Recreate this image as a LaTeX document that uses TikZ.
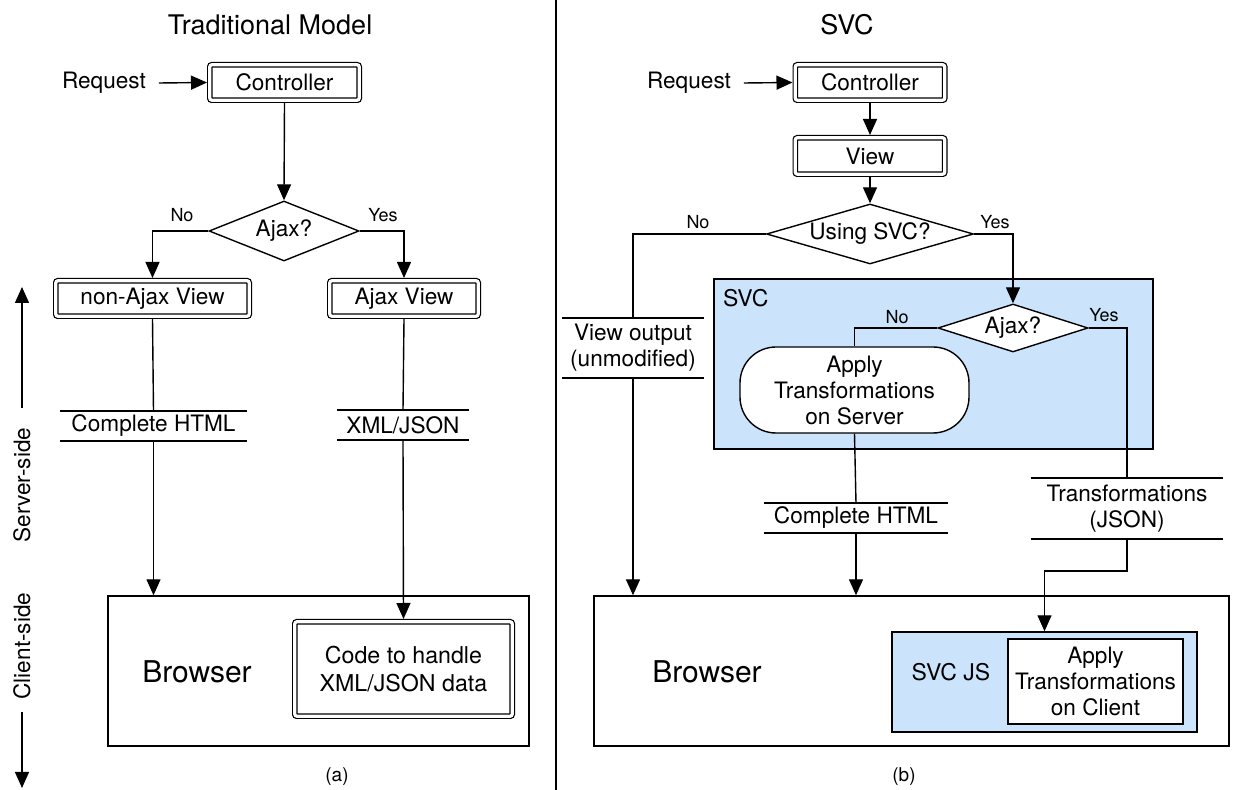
\documentclass[tikz,border=0pt]{standalone}
\usepackage{fontspec}
\setmainfont{TeX Gyre Heros}
\usetikzlibrary{shapes.geometric,arrows.meta,calc}
\definecolor{svcblue}{RGB}{203,227,251}

\begin{document}
\begin{tikzpicture}[x=0.5pt,y=-0.5pt,
  every node/.style={font=\fontsize{11.3}{13}\selectfont, inner sep=0pt, outer sep=0pt, align=center},
  line/.style={line width=0.7pt},
  arr/.style={line, -{Triangle[length=8pt,width=7pt]}},
  dbox/.style={draw, line width=0.6pt, double, double distance=1.6pt, rounded corners=1pt, outer sep=1.4pt},
  plainbox/.style={draw, line width=0.7pt, outer sep=0.35pt},
  decision/.style={draw, line width=0.7pt, diamond, fill=white, outer sep=0.35pt},
  bluebox/.style={draw, line width=0.7pt, fill=svcblue, outer sep=0.35pt},
  datalabel/.style={minimum height=15pt},
  branch/.style={font=\fontsize{9}{11}\selectfont},
  title/.style={font=\fontsize{13.5}{16}\selectfont},
  big/.style={font=\fontsize{15}{18}\selectfont},
  caption/.style={font=\fontsize{9.5}{11}\selectfont},
]
\useasboundingbox (0,0) rectangle (1233,790);

% ---------------- (a) Traditional model ----------------
\node[title] (t1) at (270,25) {Traditional Model};
\node[inner xsep=6.5pt] (req1) at (104,83) {Request};
\node[dbox, minimum width=74.7pt, minimum height=17.7pt] (ctrl1) at (284.5,82.5) {Controller};
\node[decision, aspect=2.5, minimum width=75pt, minimum height=30pt] (aj1) at (284,231) {Ajax?};
\node[branch] (no1) at (182,215) {No};
\node[branch] (yes1) at (383,215) {Yes};
\node[dbox, minimum width=96.7pt, minimum height=17.7pt] (nav) at (152.5,298.5) {non-Ajax View};
\node[dbox, minimum width=74.2pt, minimum height=17.7pt] (av) at (404,298.5) {Ajax View};
\node[datalabel, minimum width=93.5pt] (ch1) at (153.5,426) {Complete HTML};
\node[datalabel, minimum width=66pt] (xj) at (403,425) {XML/JSON};
\node[plainbox, minimum width=210.5pt, minimum height=75pt] (br1) at (318.5,671) {};
\node[big] (brt1) at (197,672) {Browser};
\node[dbox, minimum width=108.7pt, minimum height=47.2pt,
      font=\fontsize{11.6}{14}\selectfont] (code1) at (403.5,669) {Code to handle\\XML/JSON data};
\node[caption] (capa) at (337,777) {(a)};

% side axis
\node[rotate=90, inner xsep=10pt] (srv) at (22,485) {Server-side};
\node[rotate=90, inner xsep=6.5pt] (cli) at (22,646) {Client-side};
\coordinate (axtop) at (22,287);
\coordinate (axbot) at (22,788);
\draw[arr] (srv.east) -- (axtop);
\draw[arr] (cli.west) -- (axbot);

\draw[arr] (req1.east) -- (ctrl1.west);
\draw[arr] (ctrl1.south) -- (aj1.north);
\draw[arr] (aj1.west) -| (nav.north);
\draw[arr] (aj1.east) -| (av.north);
\draw[line] (nav.south) -- (ch1.north);
\draw[arr] (ch1.south) -- (ch1.south |- br1.north);
\draw[line] (av.south) -- (xj.north);
\draw[arr] (xj.south) -- (code1.north);

% divider
\coordinate (divtop) at (556,0);
\coordinate (divbot) at (556,790);
\draw[line width=0.6pt] (divtop) -- (divbot);

% ---------------- (b) SVC ----------------
\node[title] (t2) at (847,25) {SVC};
\node[inner xsep=6.5pt] (req2) at (689,83) {Request};
\node[dbox, minimum width=74.7pt, minimum height=17.7pt] (ctrl2) at (870,82.5) {Controller};
\node[dbox, minimum width=74.7pt, minimum height=18.2pt] (view2) at (870,156) {View};
\node[decision, aspect=3.45, minimum width=103.5pt, minimum height=30pt] (usvc) at (870,234) {Using SVC?};
\node[branch] (no2) at (698,222) {No};
\node[branch] (yes2) at (995,222) {Yes};

\node[bluebox, minimum width=219.5pt, minimum height=85pt] (svc) at (933.5,364) {};
\node[anchor=north west, font=\fontsize{11.5}{13}\selectfont] (svct) at (723,289) {SVC};
\node[decision, aspect=3.1, minimum width=75pt, minimum height=24pt] (aj2) at (1013,328) {Ajax?};
\node[branch] (no3) at (897,317) {No};
\node[branch] (yes3) at (1104,315) {Yes};
\node[draw, line width=0.7pt, fill=white, rounded corners=18pt, outer sep=0.35pt,
      minimum width=114.5pt, minimum height=43pt] (apps) at (854.5,390) {Apply\\Transformations\\on Server};

\node[datalabel, minimum width=71pt, minimum height=30pt] (vo) at (633,348) {View output\\(unmodified)};
\node[datalabel, minimum width=92pt] (ch2) at (856,518) {Complete HTML};
\node[datalabel, minimum width=96pt, minimum height=30.5pt] (tj) at (1127,508.5) {Transformations\\(JSON)};

\node[plainbox, minimum width=317.5pt, minimum height=75pt] (br2) at (911.5,671) {};
\node[big] (brt2) at (707,672) {Browser};
\node[bluebox, minimum width=152.5pt, minimum height=50pt] (svcjs) at (1044.5,682) {};
\node[font=\fontsize{11.5}{13}\selectfont] (svcjst) at (951,672) {SVC JS};
\node[plainbox, fill=white, minimum width=87.5pt, minimum height=42.5pt] (appc) at (1095.5,681.5) {Apply\\Transformations\\on Client};
\node[caption] (capb) at (904,777) {(b)};

\coordinate (tjbend) at (1127,571);

\draw[arr] (req2.east) -- (ctrl2.west);
\draw[arr] (ctrl2.south) -- (view2.north);
\draw[arr] (view2.south) -- (usvc.north);
\draw[line] (usvc.west) -| (vo.north);
\draw[arr] (vo.south) -- (vo.south |- br2.north);
\draw[arr] (usvc.east) -| (aj2.north);
\draw[line] (aj2.west) -| (apps.north);
\draw[line] (aj2.east) -| (tj.north);
\draw[line] (apps.south) -- (ch2.north);
\draw[arr] (ch2.south) -- (ch2.south |- br2.north);
\draw[arr] (tj.south) -- (tjbend) -| (svcjs.north);

% top and bottom rules of the data labels
\foreach \n in {ch1,xj,vo,ch2,tj}
  \draw[line] (\n.north west) -- (\n.north east) (\n.south west) -- (\n.south east);
\end{tikzpicture}
\end{document}
